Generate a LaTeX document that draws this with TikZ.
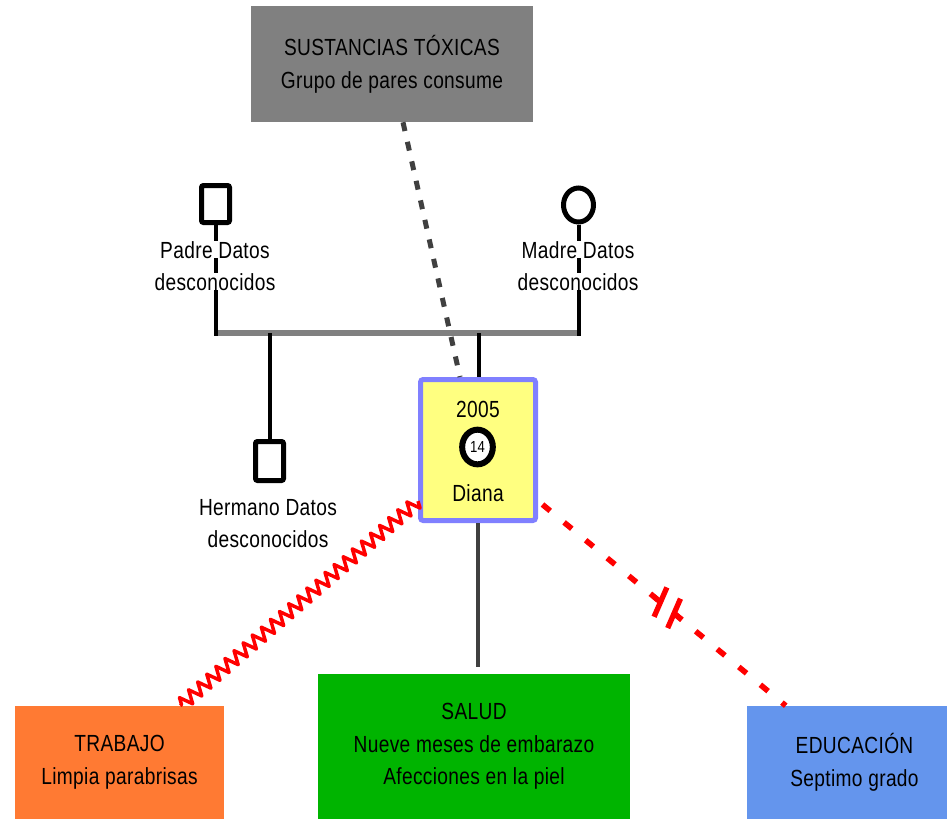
\documentclass[tikz,border=0pt]{standalone}
\usepackage{fontspec}
\setmainfont{Liberation Sans}[FakeStretch=0.82,LetterSpace=1.5]
\usetikzlibrary{calc,shapes.geometric,decorations.pathmorphing}
\definecolor{cgray}{RGB}{128,128,128}
\definecolor{cdark}{RGB}{64,64,64}
\definecolor{cyellow}{RGB}{255,255,128}
\definecolor{cblueborder}{RGB}{128,128,255}
\definecolor{cgreen}{RGB}{0,180,0}
\definecolor{corange}{RGB}{255,122,51}
\definecolor{cblue}{RGB}{100,149,237}
\definecolor{cred}{RGB}{255,0,0}
\pgfdeclarelayer{bg}
\pgfsetlayers{bg,main}
\begin{document}
\begin{tikzpicture}[x=0.75pt,y=-0.75pt,
  txt/.style={font=\fontsize{17.5}{24.5}\selectfont},
  areabox/.style={rectangle, draw=none, inner sep=0pt, align=center, txt},
  lblline/.style={txt, anchor=base, fill=white, inner sep=0pt},
  famline/.style={line width=3pt, black},
  malebox/.style={rectangle, draw=black, line width=3.75pt, rounded corners=1.5pt, minimum width=21pt, inner sep=0pt, fill=white},
  reddash/.style={cred, line width=4.2pt, dash pattern=on 7.5pt off 13.5pt},
  redsolid/.style={cred, line width=4pt}
]
\useasboundingbox (0,0) rectangle (947,819);

% area boxes
\node[areabox, fill=cgray, minimum width=211.5pt, minimum height=87pt] (sust) at (392,64) {SUSTANCIAS TÓXICAS\\Grupo de pares consume};
\node[areabox, fill=corange, minimum width=156.75pt, minimum height=84.75pt] (trab) at (119.5,762.5) {TRABAJO\\Limpia parabrisas};
\node[areabox, fill=cgreen, minimum width=234pt, minimum height=108.75pt] (salud) at (474,746.5) {SALUD\\Nueve meses de embarazo\\Afecciones en la piel};
\node[areabox, fill=cblue, minimum width=161.25pt, minimum height=84.75pt] (educ) at (854.5,762.5) {EDUCACIÓN\\Septimo grado};

% family symbols
\node[malebox, minimum height=27.75pt] (padre) at (215.5,204) {};
\node[ellipse, draw=black, line width=3.75pt, minimum width=22.5pt, minimum height=25.5pt, inner sep=0pt, fill=white] (madre) at (578.5,205) {};
\node[malebox, minimum height=29.25pt] (herm) at (269.5,461) {};

\node[lblline] (padreA) at (215,258) {Padre Datos};
\node[lblline] (padreB) at (215,290) {desconocidos};
\node[lblline] (madreA) at (578,258) {Madre Datos};
\node[lblline] (madreB) at (578,290) {desconocidos};
\node[lblline] (hermA) at (268,515) {Hermano Datos};
\node[lblline] (hermB) at (268,547) {desconocidos};

% Diana
\node[rectangle, draw=cblueborder, fill=cyellow, line width=3.75pt, rounded corners=2pt, minimum width=86.25pt, minimum height=105.75pt] (diana) at (478,450) {};
\node[txt, anchor=base, inner sep=0pt] (dyear) at (478,417) {2005};
\node[ellipse, draw=black, line width=4.5pt, fill=white, minimum width=23pt, minimum height=26pt, inner sep=0pt, font=\fontsize{12}{13}\selectfont] (dcirc) at (477.5,447) {14};
\node[txt, anchor=base, inner sep=0pt] (dname) at (478,501) {Diana};

\coordinate (barL) at (215.5,333);
\coordinate (barR) at (578.5,333);

\begin{pgfonlayer}{bg}
\draw[line width=4.5pt, cgray] (barL) -- (barR);
\draw[famline] (padre.south) -- ([yshift=-2.25pt]barL);
\draw[famline] (madre.south) -- ([yshift=-2.25pt]barR);
\draw[famline] (barL -| herm.north) -- (herm.north);
\draw[famline] ([xshift=0.75pt]barL -| diana.north) -- ([xshift=0.75pt]diana.north);
\end{pgfonlayer}

% dotted influence line
\draw[cdark, line width=3.75pt, dash pattern=on 6.75pt off 8.25pt] ([xshift=8.25pt]sust.south) -- ($(diana.north west)!0.35!(diana.north east)$);

% health line
\draw[cdark, line width=3pt, shorten >=5.25pt] (diana.south) -- (diana.south |- salud.north);

% conflict zigzag to work
\draw[cred, line width=2.6pt, line join=round, decorate, decoration={zigzag, segment length=9pt, amplitude=5pt}] ($(diana.south west)!0.15!(diana.north west)$) -- ($(trab.north west)!0.79!(trab.north east)$);

% broken relation to education
\coordinate (eA) at ($(diana.south east)+(4.5,-18.5)$);
\coordinate (eB) at ($(educ.north west)+(39,0)$);
\coordinate (s1) at ($(eA)!0.485!(eB)$);
\coordinate (s2) at ($(eA)!0.541!(eB)$);
\draw[reddash] (eA) -- (s1);
\draw[reddash] (s2) -- (eB);
\draw[redsolid] ($(eA)!0.457!(eB)$) -- (s1);
\draw[redsolid] (s2) -- ($(eA)!0.573!(eB)$);
\draw[redsolid] ($(s1)+(6.4,-14.7)$) -- ($(s1)+(-6.4,14.7)$);
\draw[redsolid] ($(s2)+(6.4,-14.7)$) -- ($(s2)+(-6.4,14.7)$);
\end{tikzpicture}
\end{document}
